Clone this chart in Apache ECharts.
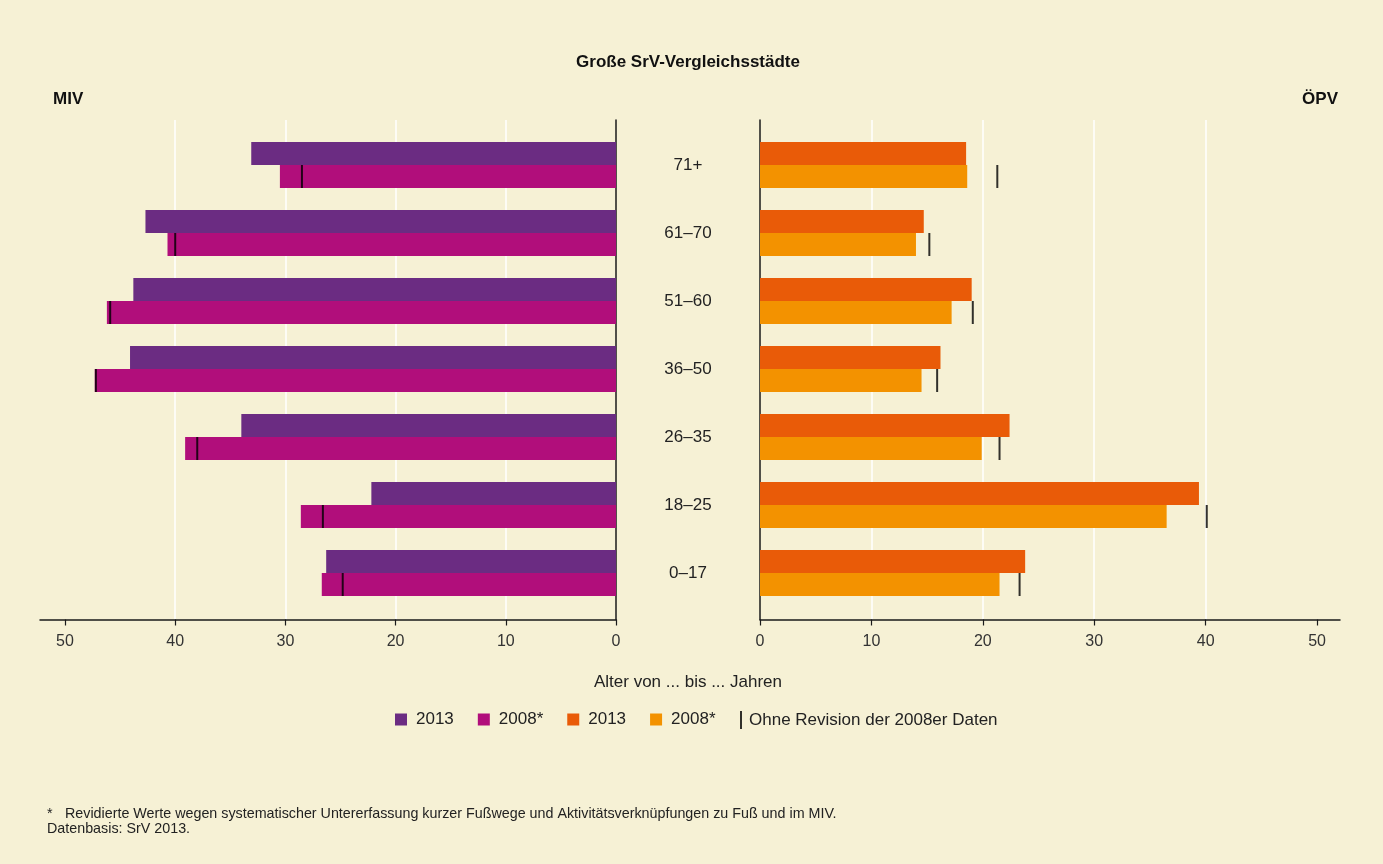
<!DOCTYPE html>
<html>
<head>
<meta charset="utf-8">
<script src="https://cdn.jsdelivr.net/npm/echarts@6/dist/echarts.min.js"></script>
<style>
html,body{margin:0;padding:0;background:#F6F1D5;}
#chart{width:1383px;height:864px;}
</style>
</head>
<body>
<div id="chart"></div>
<script>
const categories = ['71+', '61–70', '51–60', '36–50', '26–35', '18–25', '0–17'];
const miv2013 = [33.1, 42.7, 43.8, 44.1, 34.0, 22.2, 26.3];
const miv2008 = [30.5, 40.7, 46.2, 47.3, 39.1, 28.6, 26.7];
const mivOhne = [28.5, 40.0, 45.9, 47.2, 38.0, 26.6, 24.8];
const opv2013 = [18.5, 14.7, 19.0, 16.2, 22.4, 39.4, 23.8];
const opv2008 = [18.6, 14.0, 17.2, 14.5, 19.9, 36.5, 21.5];
const opvOhne = [21.3, 15.2, 19.1, 15.9, 21.5, 40.1, 23.3];
const tickValues = [0, 10, 20, 30, 40, 50];

const FONT = '"Liberation Sans", Arial, Helvetica, sans-serif';
const TXT = '#222222';
const C_PURPLE = '#6B2C82', C_MAGENTA = '#B10E7B', C_RED = '#E95B08', C_ORANGE = '#F39200', C_MARK = '#000000';

function axisXVisible(gridIndex, inverse, max) {
  return {
    type: 'value', gridIndex: gridIndex, min: 0, max: max, interval: 10, inverse: inverse,
    axisLine: { show: true, onZero: false, lineStyle: { color: '#1a1a1a', width: 1.5 } },
    axisTick: { show: true, length: 6, customValues: tickValues, lineStyle: { color: '#1a1a1a', width: 1.2 } },
    axisLabel: { show: true, customValues: tickValues, margin: 14, fontSize: 16, color: '#333', fontFamily: FONT,
      formatter: v => (v % 10 === 0 ? String(v) : '') },
    splitLine: { show: true, showMinLine: false, showMaxLine: false, lineStyle: { color: '#ffffff', width: 1.5 } }
  };
}
function axisXHidden(gridIndex, inverse, max) {
  return { type: 'value', gridIndex: gridIndex, min: 0, max: max, inverse: inverse, show: false,
    splitLine: { show: false } };
}

const leftMax = 52.27, rightMax = 52.06;

const option = {
  backgroundColor: '#F6F1D5',
  animation: false,
  textStyle: { fontFamily: FONT },
  grid: [
    { left: 40, right: 767, top: 120, bottom: 244.5 },
    { left: 40, right: 767, top: 131, bottom: 257 },
    { left: 760, right: 43, top: 120, bottom: 244.5 },
    { left: 760, right: 43, top: 131, bottom: 257 }
  ],
  xAxis: [
    axisXVisible(0, true, leftMax),
    axisXHidden(1, true, leftMax),
    axisXVisible(2, false, rightMax),
    axisXHidden(3, false, rightMax)
  ],
  yAxis: [
    { type: 'category', gridIndex: 0, data: [''], position: 'right',
      axisLine: { show: true, lineStyle: { color: '#1a1a1a', width: 1.5 } },
      axisTick: { show: false }, axisLabel: { show: false }, splitLine: { show: false } },
    { type: 'category', gridIndex: 1, data: categories, inverse: true, show: false },
    { type: 'category', gridIndex: 2, data: [''], position: 'left',
      axisLine: { show: true, lineStyle: { color: '#1a1a1a', width: 1.5 } },
      axisTick: { show: false }, axisLabel: { show: false }, splitLine: { show: false } },
    { type: 'category', gridIndex: 3, data: categories, inverse: true, position: 'left',
      axisLine: { show: false }, axisTick: { show: false }, splitLine: { show: false },
      axisLabel: { show: true, align: 'center', margin: 72, fontSize: 17, color: TXT, fontFamily: FONT } }
  ],
  legend: [
    { left: 395, top: 711, padding: 0, itemWidth: 12, itemHeight: 12, itemGap: 24, selectedMode: false,
      icon: 'rect',
      data: ['MIV 2013', 'MIV 2008*', 'ÖPV 2013', 'ÖPV 2008*'],
      formatter: n => n.replace(/^(MIV|ÖPV) /, ''),
      textStyle: { fontSize: 17, color: TXT, fontFamily: FONT, padding: [0, 0, 0, 4] } },
    { left: 740, top: 711, padding: 0, itemWidth: 2, itemHeight: 18, selectedMode: false, icon: 'rect',
      data: ['Ohne Revision der 2008er Daten'],
      textStyle: { fontSize: 17, color: TXT, fontFamily: FONT, padding: [0, 0, 0, 2] } }
  ],
  series: [
    { name: 'MIV 2013', type: 'bar', xAxisIndex: 1, yAxisIndex: 1, data: miv2013, barWidth: 23, barGap: '0%',
      itemStyle: { color: C_PURPLE } },
    { name: 'MIV 2008*', type: 'bar', xAxisIndex: 1, yAxisIndex: 1, data: miv2008, barWidth: 23, barGap: '0%',
      itemStyle: { color: C_MAGENTA } },
    { name: 'ÖPV 2013', type: 'bar', xAxisIndex: 3, yAxisIndex: 3, data: opv2013, barWidth: 23, barGap: '0%',
      itemStyle: { color: C_RED } },
    { name: 'ÖPV 2008*', type: 'bar', xAxisIndex: 3, yAxisIndex: 3, data: opv2008, barWidth: 23, barGap: '0%',
      itemStyle: { color: C_ORANGE } },
    { name: 'Ohne Revision der 2008er Daten', type: 'scatter', xAxisIndex: 1, yAxisIndex: 1, data: mivOhne,
      symbol: 'rect', symbolSize: [2, 23], symbolOffset: [0, 11.5], itemStyle: { color: C_MARK }, z: 5 },
    { name: 'Ohne Revision der 2008er Daten', type: 'scatter', xAxisIndex: 3, yAxisIndex: 3, data: opvOhne,
      symbol: 'rect', symbolSize: [2, 23], symbolOffset: [0, 11.5], itemStyle: { color: C_MARK }, z: 5 }
  ],
  graphic: [
    { type: 'text', x: 688, y: 54, style: { text: 'Große SrV-Vergleichsstädte', textAlign: 'center', fontSize: 17, fontWeight: 'bold', fill: '#111', fontFamily: FONT } },
    { type: 'text', left: 53, top: 91, style: { text: 'MIV', fontSize: 17, fontWeight: 'bold', fill: '#111', fontFamily: FONT } },
    { type: 'text', right: 45, top: 91, style: { text: 'ÖPV', fontSize: 17, fontWeight: 'bold', fill: '#111', fontFamily: FONT } },
    { type: 'text', x: 688, y: 674, style: { text: 'Alter von ... bis ... Jahren', textAlign: 'center', fontSize: 17, fill: TXT, fontFamily: FONT } },
    { type: 'text', left: 47, top: 807, style: { text: '*', fontSize: 14.3, fill: TXT, fontFamily: FONT } },
    { type: 'text', left: 65, top: 807, style: { text: 'Revidierte Werte wegen systematischer Untererfassung kurzer Fußwege und Aktivitätsverknüpfungen zu Fuß und im MIV.', fontSize: 14.3, fill: TXT, fontFamily: FONT } },
    { type: 'text', left: 47, top: 822, style: { text: 'Datenbasis: SrV 2013.', fontSize: 14.3, fill: TXT, fontFamily: FONT } }
  ]
};

const chart = echarts.init(document.getElementById('chart'), null, { renderer: 'canvas' });
chart.setOption(option);
</script>
</body>
</html>
